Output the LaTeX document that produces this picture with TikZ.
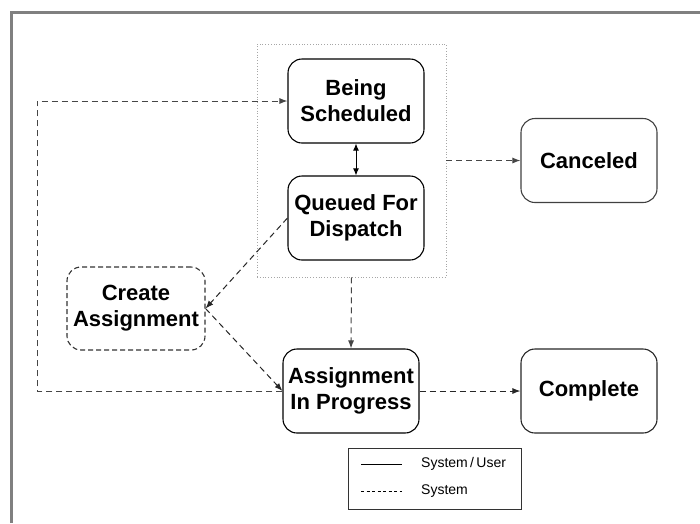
\documentclass[tikz,border=0pt]{standalone}
\usepackage{fontspec}
\setmainfont{Liberation Sans}
\usetikzlibrary{arrows.meta, positioning}
\definecolor{framegray}{RGB}{128,128,128}
\definecolor{linegray}{RGB}{70,70,70}

\begin{document}
\begin{tikzpicture}[x=1pt, y=-1pt,
    state/.style={draw, rounded corners=14pt, line width=1.1pt, minimum width=136pt,
        minimum height=84pt, align=center, inner sep=0pt,
        font=\fontsize{22}{26}\selectfont\bfseries},
    sysarrow/.style={draw=linegray, dash pattern=on 6pt off 4pt, line width=1pt,
        -{Latex[length=8pt, width=6pt]}},
    userarrow/.style={line width=1pt,
        {Latex[length=7pt, width=6pt]}-{Latex[length=7pt, width=6pt]}}]
    \useasboundingbox (0,0) rectangle (700,523);

    % Outer frame (cut off on the right and bottom)
    \draw[framegray, line width=3pt] (11,523) -- (11,12) -- (700,12);

    % Scheduling group
    \node[draw=gray!70, dotted, line width=0.8pt, minimum width=189pt, minimum height=233pt,
        inner sep=0pt] (group) at (351.5,160.5) {};

    % States
    \node[state] (sched) at (356,101) {Being\\Scheduled};
    \node[state] (queued) at (356,218) {Queued For\\Dispatch};
    \node[state, draw=black!75] (cancel) at (589,160.5) {Canceled};
    \node[state, dash pattern=on 5pt off 3pt, draw=black!80, minimum width=138pt,
        minimum height=83pt] (create) at (136,308.5) {Create\\Assignment};
    \node[state] (prog) at (351,391) {Assignment\\In Progress};
    \node[state, draw=black!85] (done) at (589,391) {Complete};

    % Transitions
    \draw[userarrow] (sched) -- (queued);
    \draw[sysarrow] (group.east |- cancel.west) -- (cancel.west);
    \draw[sysarrow] (group.south) -- (prog.north);
    \draw[sysarrow, draw=black!85] (queued.west) -- (create.east);
    \draw[sysarrow, draw=black!85] (create.east) -- (prog.west);
    \coordinate (loopx) at (37,0);
    \draw[sysarrow] (prog.west) -- (prog.west -| loopx) |- (sched.west);
    \draw[sysarrow, draw=black!85] (prog.east) -- (done.west);

    % Legend
    \node[draw=black!80, line width=0.8pt, minimum width=173pt, minimum height=61pt,
        inner sep=0pt] (legend) at (434.5,478.5) {};
    \coordinate (solidA) at (361,464);
    \coordinate (solidB) at (402,464);
    \coordinate (dashA) at (361,491);
    \coordinate (dashB) at (402,491);
    \draw[line width=0.8pt] (solidA) -- (solidB);
    \draw[line width=0.8pt, dash pattern=on 3pt off 2.5pt] (dashA) -- (dashB);
    \node[anchor=west, inner sep=0pt, font=\fontsize{14}{16}\selectfont] (userlbl) at (421,464) {System\,/\,User};
    \node[anchor=west, inner sep=0pt, font=\fontsize{14}{16}\selectfont] (syslbl) at (421,491) {System};
\end{tikzpicture}
\end{document}
